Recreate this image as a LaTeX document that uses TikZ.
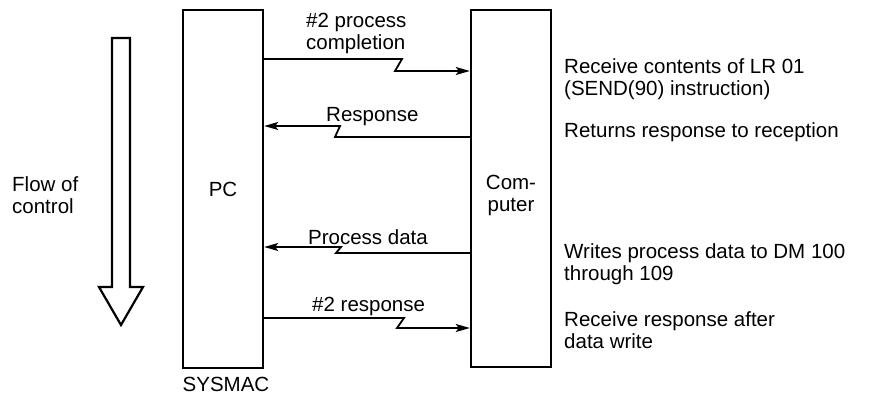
\documentclass[tikz,border=0pt]{standalone}
\usepackage{fontspec}
\setmainfont{Liberation Sans}
\usetikzlibrary{arrows.meta}
\begin{document}
\begin{tikzpicture}[x=1pt,y=-1pt,
  box/.style={draw,line width=2.4pt,minimum width=80pt,inner sep=0pt},
  lbl/.style={inner sep=0pt,font=\fontsize{20.5}{22}\selectfont,align=left},
  conn/.style={line width=1.8pt,-{Stealth[length=14pt,width=8pt,inset=3pt]}},
  flow/.style={draw,line width=2.2pt,line join=miter}]
\useasboundingbox (0,0) rectangle (871,399);
% boxes
\node[box,minimum height=358pt] (pc) at (223,189) {};
\node[box,minimum height=357pt] (cp) at (511,188.5) {};
\node[lbl] (pct) at (pc) {PC};
\node[lbl,align=center] (cpt) at (511,195) {Com-\\puter};
\node[lbl,anchor=north] (sys) at (226,377) {SYSMAC};
% flow arrow
\draw[flow] (112,38) -- (130,38) -- (130,287) -- (143,287) -- (121,325) -- (99,287) -- (112,287) -- cycle;
\node[lbl,anchor=west] (flowt) at (12,195) {Flow of\\control};
% connectors
\draw[conn] (pc.east |- 0,59) -- (402,59) -- (395,71) -- (cp.west |- 0,71);
\draw[conn] (cp.west |- 0,137) -- (335,137) -- (340,126) -- (pc.east |- 0,126);
\draw[conn] (cp.west |- 0,253) -- (336,253) -- (341,247) -- (pc.east |- 0,247);
\draw[conn] (pc.east |- 0,318) -- (404,318) -- (397,328) -- (cp.west |- 0,328);
% connector labels
\node[lbl,anchor=west] (l1) at (306,33) {\#2 process\\completion};
\node[lbl,anchor=west] (l2) at (326,117) {Response};
\node[lbl,anchor=west] (l3) at (308,237) {Process data};
\node[lbl,anchor=west] (l4) at (312,306) {\#2 response};
% right texts
\node[lbl,anchor=west] (r1) at (564,79) {Receive contents of LR 01\\(SEND(90) instruction)};
\node[lbl,anchor=west] (r2) at (564,132) {Returns response to reception};
\node[lbl,anchor=west] (r3) at (564,264) {Writes process data to DM 100\\through 109};
\node[lbl,anchor=west] (r4) at (564,330) {Receive response after\\data write};
\end{tikzpicture}
\end{document}
